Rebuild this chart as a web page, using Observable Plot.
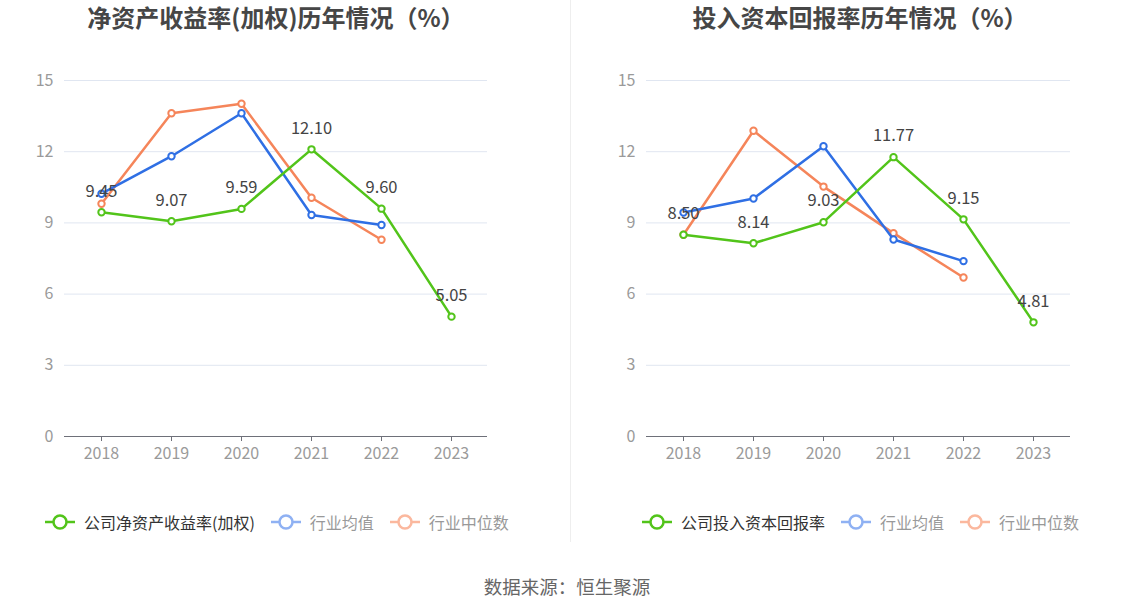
<!DOCTYPE html>
<html>
<head>
<meta charset="utf-8">
<script src="https://cdn.jsdelivr.net/npm/d3@7"></script>
<script src="https://cdn.jsdelivr.net/npm/@observablehq/plot@0.6"></script>
<style>
  html, body { margin: 0; padding: 0; background: #fff; }
  body { width: 1134px; height: 612px; position: relative; overflow: hidden;
         font-family: "Noto Sans CJK SC", "Noto Sans", sans-serif; }
  .title { position: absolute; top: 0px; font-size: 24px; font-weight: bold; color: #464646;
           text-align: center; line-height: 34px; }
  .divider { position: absolute; left: 570px; top: 0; width: 1px; height: 542px; background: #eeeeee; }
  .chart { position: absolute; top: 0; }
  .legend { position: absolute; top: 510px; display: flex; align-items: center; font-size: 16px; line-height: 24px; white-space: nowrap; }
  .item { display: flex; align-items: center; margin-right: 15px; }
  .item svg { margin-right: 8px; }
  .footer { position: absolute; top: 571px; left: 0; width: 1134px; text-align: center; font-size: 18.5px; color: #666; line-height: 30px; }
</style>
</head>
<body>
<div class="divider"></div>
<div class="title" style="left:56px;width:440px;">净资产收益率(加权)历年情况（%）</div>
<div class="title" style="left:640px;width:440px;">投入资本回报率历年情况（%）</div>
<div id="c1" class="chart" style="left:0px;"></div>
<div id="c2" class="chart" style="left:570px;"></div>
<div id="l1" class="legend" style="left:44px;"></div>
<div id="l2" class="legend" style="left:641px;"></div>
<div class="footer">数据来源：恒生聚源</div>
<script>
const years = ["2018", "2019", "2020", "2021", "2022", "2023"];
const industryYears = ["2018", "2019", "2020", "2021", "2022"];
const roeCompany = [9.45, 9.07, 9.59, 12.10, 9.60, 5.05];
const roeAvg = [10.23, 11.81, 13.62, 9.33, 8.91];
const roeMedian = [9.81, 13.62, 14.02, 10.06, 8.29];
const roicCompany = [8.50, 8.14, 9.03, 11.77, 9.15, 4.81];
const roicAvg = [9.44, 10.03, 12.23, 8.30, 7.39];
const roicMedian = [8.50, 12.88, 10.53, 8.57, 6.70];
const yTicks = [0, 3, 6, 9, 12, 15];
const legend1 = ["公司净资产收益率(加权)", "行业均值", "行业中位数"];
const legend2 = ["公司投入资本回报率", "行业均值", "行业中位数"];

const GREEN = "#52c41a", BLUE = "#2f6fe4", ORANGE = "#f5855a";
const LEG_COLORS = ["#52c41a", "#8fb1f3", "#fbb89e"];
const LEG_TEXT = ["#333333", "#999999", "#999999"];

function rows(xs, vs) { return xs.map((x, i) => ({x, v: vs[i]})); }

function chart(company, avg, median, width, ml, mr) {
  const c = rows(years, company), a = rows(industryYears, avg), m = rows(industryYears, median);
  const font = '"Noto Sans CJK SC", "Noto Sans", sans-serif';
  return Plot.plot({
    width, height: 470,
    marginLeft: ml, marginRight: mr, marginTop: 80, marginBottom: 34,
    style: {fontFamily: font, fontSize: "16px", background: "transparent", overflow: "visible"},
    x: {type: "point", domain: years, padding: 0.5, label: null},
    y: {domain: [0, 15], label: null},
    marks: [
      Plot.gridY(yTicks, {stroke: "#e0e6f1", strokeOpacity: 1, strokeWidth: 1}),
      Plot.axisY(yTicks, {tickSize: 0, tickPadding: 11, fill: "#9a9a9a", fontSize: 16, label: null}),
      Plot.ruleY([0], {stroke: "#6e7079", strokeWidth: 1.2}),
      Plot.axisX(years, {tickSize: 5, tickPadding: 6, stroke: "#6e7079", fill: "#9a9a9a", fontSize: 16, label: null}),
      Plot.line(m, {x: "x", y: "v", stroke: ORANGE, strokeWidth: 2.5}),
      Plot.dot(m, {x: "x", y: "v", r: 3.2, fill: "#fff", stroke: ORANGE, strokeWidth: 2}),
      Plot.line(a, {x: "x", y: "v", stroke: BLUE, strokeWidth: 2.5}),
      Plot.dot(a, {x: "x", y: "v", r: 3.2, fill: "#fff", stroke: BLUE, strokeWidth: 2}),
      Plot.line(c, {x: "x", y: "v", stroke: GREEN, strokeWidth: 2.5}),
      Plot.dot(c, {x: "x", y: "v", r: 3.2, fill: "#fff", stroke: GREEN, strokeWidth: 2}),
      Plot.text(c, {x: "x", y: "v", text: d => d.v.toFixed(2), dy: -21, fill: "#444", fontSize: 16.5})
    ]
  });
}

document.getElementById("c1").appendChild(chart(roeCompany, roeAvg, roeMedian, 570, 64, 83));
document.getElementById("c2").appendChild(chart(roicCompany, roicAvg, roicMedian, 564, 76, 64));

function legend(el, labels) {
  labels.forEach((t, i) => {
    const item = document.createElement("div");
    item.className = "item";
    const col = LEG_COLORS[i];
    item.innerHTML = `<svg width="32" height="20"><line x1="1" y1="10" x2="31" y2="10" stroke="${col}" stroke-width="2.5"/><circle cx="16" cy="10" r="6.5" fill="#fff" stroke="${col}" stroke-width="2.5"/></svg><span style="color:${LEG_TEXT[i]}">${t}</span>`;
    el.appendChild(item);
  });
}
legend(document.getElementById("l1"), legend1);
legend(document.getElementById("l2"), legend2);
</script>
</body>
</html>
